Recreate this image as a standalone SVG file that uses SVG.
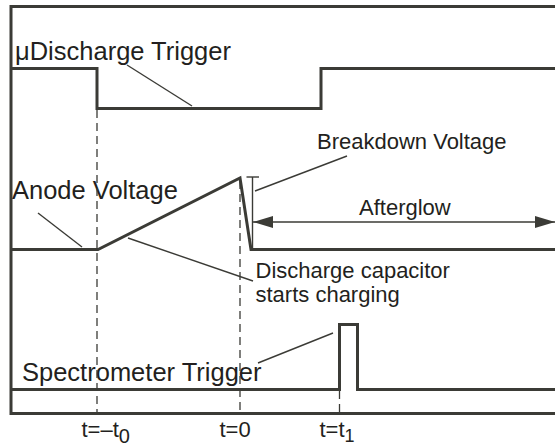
<svg xmlns="http://www.w3.org/2000/svg" width="555" height="447" viewBox="0 0 555 447">
  <style>
    .sig { fill: none; stroke: #3b3b36; stroke-width: 3; stroke-linejoin: miter; stroke-linecap: butt; }
    .thin { fill: none; stroke: #3b3b36; stroke-width: 1.4; }
    .dash { fill: none; stroke: #3b3b36; stroke-width: 1.3; stroke-dasharray: 8 5; }
    .big { font-family: "Liberation Sans", Arial, sans-serif; font-size: 25.5px; fill: #231f20; }
    .small { font-family: "Liberation Sans", Arial, sans-serif; font-size: 22px; fill: #231f20; }
  </style>
  <defs>
    <marker id="ah" viewBox="0 0 20 12" refX="20" refY="6" markerWidth="20" markerHeight="12" markerUnits="userSpaceOnUse" orient="auto-start-reverse">
      <path d="M0,0 L20,6 L0,12 Z" fill="#3b3b36"/>
    </marker>
  </defs>
  <rect width="555" height="447" fill="#ffffff"/>

  <g id="frame">
    <polyline class="sig" points="555,6.5 11,6.5 11,413.5 555,413.5"/>
  </g>

  <g id="discharge-trigger">
    <polyline class="sig" points="11,68.5 97,68.5 97,108.5 321,108.5 321,68.5 555,68.5"/>
    <text class="big" x="15" y="60">μDischarge Trigger</text>
  </g>

  <g id="anode-voltage">
    <polyline class="sig" points="11,249.5 98,249.5 240,178 251,249.5 555,249.5"/>
    <text class="big" x="12" y="199">Anode Voltage</text>
  </g>

  <g id="breakdown-voltage">
    <line class="thin" x1="252.5" y1="177" x2="252.5" y2="249"/>
    <line class="thin" x1="246.5" y1="177" x2="259" y2="177"/>
    <text class="small" x="317" y="149">Breakdown Voltage</text>
  </g>

  <g id="afterglow">
    <line class="thin" x1="253" y1="222" x2="555" y2="222" marker-start="url(#ah)" marker-end="url(#ah)"/>
    <text class="small" x="359" y="215">Afterglow</text>
  </g>

  <g id="capacitor-label">
    <text class="small" x="255.5" y="278">Discharge capacitor</text>
    <text class="small" x="255.5" y="302">starts charging</text>
  </g>

  <g id="spectrometer-trigger">
    <polyline class="sig" points="11,389.5 339.5,389.5 339.5,324.5 357.5,324.5 357.5,389.5 555,389.5"/>
    <text class="big" x="22" y="381">Spectrometer Trigger</text>
  </g>

  <g id="time-labels">
    <text class="small" x="81.5" y="437">t=–t<tspan font-size="20" dy="6">0</tspan></text>
    <text class="small" x="219.5" y="437">t=0</text>
    <text class="small" x="319.5" y="437">t=t<tspan font-size="18" dy="5">1</tspan></text>
  </g>

  <g id="connectors">
    <line class="dash" x1="97" y1="110" x2="97" y2="412"/>
    <line class="dash" x1="240" y1="181" x2="240" y2="412"/>
    <line class="dash" x1="339.5" y1="391" x2="339.5" y2="412"/>
    <line class="thin" x1="127" y1="65" x2="192" y2="106"/>
    <line class="thin" x1="38" y1="213" x2="82" y2="247"/>
    <line class="thin" x1="128" y1="238" x2="253" y2="281"/>
    <line class="thin" x1="255" y1="191" x2="347" y2="156"/>
    <line class="thin" x1="258" y1="363" x2="333" y2="333"/>
  </g>
</svg>
